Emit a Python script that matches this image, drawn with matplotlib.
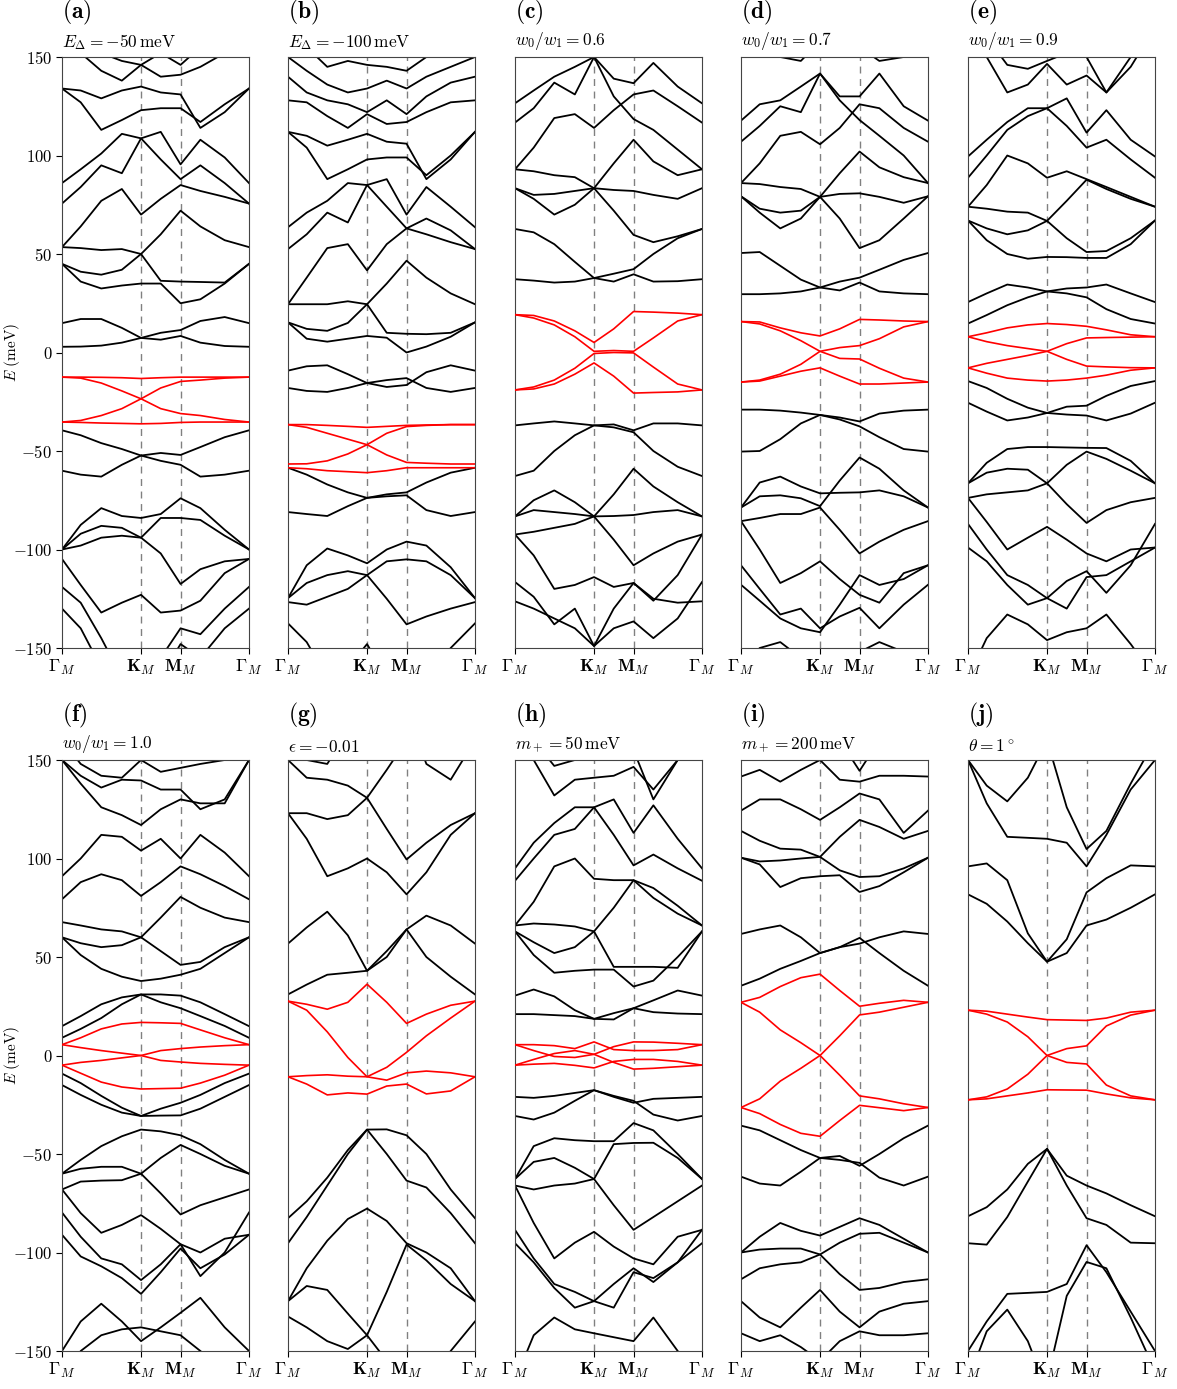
import numpy as np
import matplotlib
matplotlib.use('Agg')
import matplotlib.pyplot as plt

plt.rcParams['mathtext.fontset'] = 'cm'
plt.rcParams['font.family'] = 'serif'
plt.rcParams['font.serif'] = ['cmr10', 'DejaVu Serif']

# path Gamma -> K -> M -> Gamma, lengths 1 : 1/2 : sqrt(3)/2
KPT = 1 / (1 + 0.5 + np.sqrt(3) / 2)
MPT = 1.5 / (1 + 0.5 + np.sqrt(3) / 2)
kx = [0, 0.1, 0.21, 0.32, KPT, 0.528, MPT, 0.74, 0.87, 1.0]

titles = [r'$E_\Delta = -50\,\mathrm{meV}$', r'$E_\Delta = -100\,\mathrm{meV}$',
          r'$w_0/w_1 = 0.6$', r'$w_0/w_1 = 0.7$', r'$w_0/w_1 = 0.9$',
          r'$w_0/w_1 = 1.0$', r'$\epsilon = -0.01$', r'$m_+ = 50\,\mathrm{meV}$',
          r'$m_+ = 200\,\mathrm{meV}$', r'$\theta = 1^\circ$']
letters = ['a', 'b', 'c', 'd', 'e', 'f', 'g', 'h', 'i', 'j']

# energies (meV) at the kx points, one list per band
a_red = [
    [-12.5, -12.5, -12.6, -12.8, -13.2, -12.8, -12.5, -12.5, -12.5, -12.5],
    [-12.5, -13, -15.5, -19.5, -23.5, -28.5, -31, -32, -34, -35.3],
    [-35.3, -34.5, -32, -28.5, -23.5, -18, -14.7, -14, -13, -12.5],
    [-35.3, -35.5, -35.8, -36, -36.2, -36, -35.5, -35.3, -35.3, -35.3],
]
a_black = [
    [14.9, 17, 17, 12.5, 7.4, 6.5, 8.4, 5, 3.3, 2.9],
    [2.9, 3, 3.5, 5, 7.4, 10, 11.4, 16, 18, 14.9],
    [53.5, 53, 52, 52.5, 50, 36.4, 36, 35.8, 35.5, 45],
    [45, 41, 39.5, 42, 50, 60, 72, 64, 57, 53.5],
    [45, 36, 32.5, 34, 35, 35, 25, 27, 35, 45],
    [53.5, 64, 77, 83, 70, 78, 85, 82, 79, 75.6],
    [75.6, 84, 95, 91, 108.7, 112, 95.5, 108, 99, 86],
    [86, 93, 101, 111, 108.7, 98, 88, 95, 86, 75.6],
    [134, 127, 113, 118, 123, 124, 124, 117, 126, 134],
    [134, 133, 129, 133, 135, 132, 131, 114, 122, 134],
    [165, 152, 143, 138, 146, 140, 141, 145, 152, 165],
    [180, 165, 152, 148, 146, 152, 146, 155, 162, 180],
    [-39.5, -42, -46, -49, -52.3, -51, -52, -48, -43, -39.5],
    [-60, -62, -63, -57, -52.3, -55, -57, -63, -62, -60],
    [-100, -87.5, -79, -83, -84, -82, -74, -79, -90, -100],
    [-100, -92, -88, -89, -94, -84, -84, -85, -93, -100],
    [-100, -98, -94, -93, -94, -102, -117.5, -110, -106, -104.8],
    [-104.8, -118, -132, -127, -123, -132, -131, -126, -112, -104.8],
    [-119, -127, -145, -165, -175, -155, -140, -143, -130, -119],
    [-130, -140, -160, -175, -180, -165, -148, -155, -140, -130],
]

b_red = [
    [-36.6, -36.6, -37, -37.5, -38, -37.5, -37, -36.8, -36.6, -36.6],
    [-36.6, -38, -41, -44, -46.8, -52, -55.8, -56.2, -56.6, -56.6],
    [-56.6, -56.5, -55, -51.5, -46.8, -41, -37.6, -37, -36.6, -36.6],
    [-58.5, -59, -60, -60.5, -61, -60, -58.5, -58.5, -58.5, -58.5],
]
b_black = [
    [-9.2, -7, -6.5, -11, -15.5, -17.5, -16.5, -10, -6.5, -9.2],
    [-18, -19.5, -20, -18, -15.5, -14, -13, -18, -20, -18],
    [24.5, 24.5, 24.5, 26, 24.5, 10, 9.5, 9.3, 10, 15.3],
    [15.3, 12, 11, 15, 24.5, 35, 46.6, 38, 30, 24.5],
    [15.3, 7, 5.5, 7, 8.4, 7.5, 0, 3, 8, 15.3],
    [24.5, 38, 53, 55, 41.7, 55, 63, 60, 56, 52.5],
    [52.5, 60, 71, 66, 85, 88, 70, 84, 74, 63.6],
    [63.6, 71, 77, 86, 85, 74, 63, 68, 62, 52.5],
    [112, 104, 88, 93, 98, 99, 99, 90, 100, 112],
    [112, 110, 105, 108, 111, 107, 106, 88, 98, 112],
    [128, 127, 120, 114, 121, 116, 117, 122, 127, 128],
    [140, 132, 128, 126, 122, 128, 121, 130, 137, 140],
    [150, 143, 136, 132, 134, 138, 134, 140, 145, 150],
    [170, 155, 145, 148, 146, 145, 143, 150, 158, 170],
    [-58.5, -62, -67, -71, -73.8, -72, -71, -66, -61, -58.5],
    [-81, -82, -83, -78, -73.8, -73, -72.5, -80, -83, -81],
    [-124.7, -108, -99.5, -103, -107, -100, -96, -98, -109, -124.7],
    [-124.7, -117, -113, -111, -113, -106, -105, -106, -113, -124.7],
    [-126.7, -128, -124, -120, -113, -125, -138, -134, -130, -126.7],
    [-137.5, -147, -165, -160, -148, -165, -175, -165, -150, -137.5],
]

c_red = [
    [19.2, 18.8, 16, 11, 5.1, 12, 20.8, 20.5, 20, 19.2],
    [19.2, 17.5, 14, 8, 0.6, 1, 0.6, 7.4, 16, 19.2],
    [-19, -17.5, -14, -8, -0.5, 0, -0.2, -7.4, -16, -19],
    [-19, -18.5, -16, -11, -5.3, -12, -20.6, -20.3, -20, -19],
]
c_black = [
    [37.2, 36.5, 35.5, 36, 37.8, 36, 39.7, 36, 36.2, 37.2],
    [62.7, 61, 55, 46, 37.8, 40, 42.3, 50, 58, 62.7],
    [93, 92, 90, 89, 83.4, 72, 59.7, 56, 59, 62.7],
    [83.4, 78, 70, 75, 83.4, 96, 108, 97, 90, 93],
    [83.4, 80, 80.5, 82, 83.4, 82.5, 82, 80, 78, 83.4],
    [93, 104, 119, 121, 114, 123, 131, 133, 125, 116.7],
    [116.7, 124, 137, 131, 150, 139, 136.7, 147, 135, 126.5],
    [126.5, 133, 140, 145, 150, 130, 118.5, 113, 103, 93],
    [-37, -36, -35, -36, -37, -36.5, -39.5, -36, -36, -37],
    [-62.7, -60, -50, -42, -37, -38, -40.5, -50, -58, -62.7],
    [-83.2, -75, -70, -76, -83.2, -72, -59, -68, -76, -83.2],
    [-83.2, -80, -81, -82, -83.2, -83, -82.5, -81, -80, -83.2],
    [-92.4, -91, -89, -87, -83.2, -95, -108, -102, -96, -92.4],
    [-92.4, -103, -120, -118, -114, -119, -117, -126, -113, -92.4],
    [-116.5, -124, -138, -130, -149, -140, -136.5, -145, -135, -116.5],
    [-126.3, -130, -135, -140, -149, -130, -117, -125, -127, -126.3],
]

d_red = [
    [15.7, 15.5, 12.5, 10, 8.4, 12, 16.8, 16.5, 16, 15.7],
    [15.7, 14.5, 11, 6, 0.6, 2.5, 3.5, 7, 13, 15.7],
    [-15, -14, -11, -6, 0.6, -3, -3.3, -8, -13, -15],
    [-15, -14.5, -12, -9.5, -7.8, -12, -16, -16, -15.5, -15],
]
d_black = [
    [50.5, 51, 44, 37, 33, 31.5, 35.5, 31, 30, 29.6],
    [29.6, 29.6, 30, 31, 33, 36, 38, 42, 47, 50.5],
    [86, 85.5, 84, 83, 79, 68, 53, 57, 68, 79.3],
    [79.3, 73, 71, 72, 79, 80.5, 80.8, 79, 76, 79.3],
    [79.3, 71, 63, 68, 79, 91, 102, 94, 89, 86],
    [86, 96, 110, 112, 105.7, 114, 126, 124, 114, 107],
    [107, 115, 125, 122, 141.6, 130, 130, 141.6, 125, 117.7],
    [117.7, 126, 128, 135, 141.6, 128, 118, 110, 100, 86],
    [165, 155, 150, 148, 158, 160, 155, 148, 150, 165],
    [-29, -29, -29.5, -30.5, -31.7, -33, -35, -31, -29.5, -29],
    [-50.3, -50, -44, -36, -31.7, -34, -37.5, -43, -49, -50.3],
    [-78.7, -66, -63, -68, -71.5, -71.2, -71, -70, -73, -78.7],
    [-78.7, -73, -72.5, -74, -78, -65, -53.3, -59, -70, -78.7],
    [-85.6, -84, -82, -82, -78.7, -90, -102, -96, -90, -85.6],
    [-85.6, -100, -117, -112, -106, -115, -123, -127, -112, -108],
    [-108, -120, -133, -130, -140, -134, -129.6, -140, -128, -117.9],
    [-117.9, -126, -135, -140, -142, -128, -113, -118, -115, -108],
    [-160, -150, -147, -155, -165, -160, -152, -147, -152, -160],
]

e_red = [
    [8, 10, 12.5, 14, 14.7, 14.2, 13.3, 11.5, 9, 8],
    [8, 5.5, 3.5, 2, 0.6, -3.5, -6.9, -7.3, -7.7, -7.8],
    [-7.8, -5.5, -3.5, -1.5, 0.6, 4.5, 7.4, 7.6, 7.8, 8],
    [-7.8, -10.5, -13, -14, -14.5, -14, -13, -11.5, -9, -7.8],
]
e_black = [
    [25.6, 30, 34.5, 33, 31, 30, 28, 22, 17, 14.7],
    [14.7, 19, 24, 28, 31, 32.5, 33, 34.5, 30, 25.6],
    [74, 73, 71.5, 71, 66.8, 58, 51, 51.5, 58, 67],
    [67, 63, 60, 62, 66.8, 77, 87.7, 83, 78, 74],
    [67, 57, 50, 47.6, 48.5, 48.4, 48, 48, 55, 67],
    [99.5, 108, 117, 124, 124, 129, 111.6, 123, 108, 99.5],
    [88.7, 100, 113, 120, 124, 115, 104, 108, 98, 88.7],
    [74, 85, 100, 96, 88.7, 92, 88, 84, 79, 74],
    [165, 150, 132, 136, 146.5, 136, 140.6, 132, 145, 165],
    [175, 160, 146, 144, 148, 152, 150, 132, 150, 175],
    [-14.5, -18, -23.5, -28, -30.7, -27.5, -27, -22, -17, -14.5],
    [-25.5, -30, -34.5, -33, -30.7, -31.5, -32, -34.5, -31, -25.5],
    [-66.4, -56, -49, -48, -48, -48.2, -48.4, -48.5, -55, -66.4],
    [-66.4, -61, -59, -59.5, -66.4, -57, -50.3, -54, -60, -66.4],
    [-73.8, -72, -71, -70, -66.4, -77, -86.5, -80, -76, -73.8],
    [-73.8, -86, -100, -94, -88.5, -95, -102, -106, -100, -99],
    [-87, -100, -113, -118, -124.7, -116, -111, -122, -108, -87],
    [-99, -106, -118, -128, -124.7, -130, -114, -113, -106, -99],
    [-165, -145, -133, -138, -146, -142, -140, -133, -148, -165],
]

f_red = [
    [5.5, 9, 13.5, 16, 16.8, 16.6, 16.3, 13, 9, 5.5],
    [5.5, 4, 2.5, 1.2, 0, -2.5, -3.3, -4, -4.5, -4.9],
    [-4.9, -3.5, -2.5, -1.2, 0, 2.5, 3.5, 4.3, 5, 5.5],
    [-4.9, -9, -13.5, -16, -17, -16.8, -16.6, -14, -10, -4.9],
]
f_black = [
    [14.9, 20, 26, 29.5, 31, 31, 30.4, 27, 21, 14.9],
    [9, 13.5, 19, 26, 31, 27, 24, 20, 15, 9],
    [-9.2, -14, -20.5, -26.5, -30.7, -27, -24, -20, -14, -9.2],
    [-15, -20, -25, -29, -30.7, -30.5, -30.4, -27, -21, -15],
    [67.7, 66, 64, 63, 60, 53, 46, 47.5, 55, 60],
    [60, 57, 55, 56, 60, 70, 80.5, 75, 70, 67.7],
    [60, 51, 44, 40, 37.8, 39, 41, 44, 52, 60],
    [91, 100, 112, 111, 104, 110, 100, 112, 103, 91],
    [79.3, 88, 92, 89, 81, 88, 96, 92, 86, 79.3],
    [150, 138, 126, 122, 117, 125, 130, 128, 128, 150],
    [150, 142, 136, 140, 139.6, 135, 135, 125, 130, 150],
    [160, 148, 142, 141, 150, 144, 146, 148, 150, 160],
    [-60, -53, -46, -41, -37.6, -38.5, -40.5, -45, -53, -60],
    [-60, -57.5, -56.5, -56.5, -60, -52, -45.4, -50, -56, -60],
    [-68, -64, -63.5, -63.3, -60, -70, -80.7, -76, -72, -68],
    [-68, -80, -90, -86, -81, -88, -95.8, -100, -93, -91],
    [-79.7, -92, -103, -106, -114, -106, -95.8, -112, -100, -79.7],
    [-91, -102, -107, -113, -121, -110, -98, -108, -101, -91],
    [-150, -135, -126, -135, -145, -138, -130.6, -123, -138, -150],
    [-165, -150, -142, -139, -138, -140, -142, -150, -160, -170],
]

g_red = [
    [27.6, 26, 23.5, 27, 36.2, 27, 16.3, 21, 25.5, 27.6],
    [27.6, 23, 12, -1, -10.8, -6, 1.6, 10, 19, 27.6],
    [-10.8, -10.2, -9.8, -10.5, -10.8, -12.5, -8.8, -7.9, -8.8, -10.8],
    [-10.8, -14.5, -20, -19, -19.6, -15.5, -14.5, -19.5, -18, -10.8],
]
g_black = [
    [31, 36, 41, 42, 43, 50, 64, 71, 66, 56.8],
    [56.8, 65, 73, 61, 43, 53, 64, 50, 40, 31],
    [123, 123, 120, 122, 130.8, 115, 99.5, 108, 117, 123],
    [123, 110, 91, 95, 100, 93, 81.8, 93, 112, 123],
    [150, 141, 140, 137, 130.8, 145, 160, 170, 175, 180],
    [165, 150, 148, 165, 180, 180, 175, 148, 140, 160],
    [-82.6, -74, -62, -48, -37.6, -37.5, -40.5, -50, -68, -82.6],
    [-95.3, -82, -66, -50, -37.6, -50, -63.5, -67, -80, -95.3],
    [-124.7, -108, -94, -83, -77.7, -84, -95.3, -100, -108, -124.7],
    [-124.7, -117, -119, -131, -142, -120, -96, -104, -116, -124.7],
    [-132.5, -138, -145, -149, -142, -155, -170, -165, -150, -135],
]

h_red = [
    [5.5, 5.5, 5, 3.5, 6.9, 3, 2.5, 2.5, 3, 5.5],
    [5.5, 2.5, -0.5, -1, 0.6, 4.5, 6.9, 6.8, 6.2, 5.5],
    [-4.9, -2, 1, 2.5, 0.6, -3.5, -6.9, -6.5, -5.7, -4.9],
    [-4.9, -4.4, -4, -5, -6.3, -3, -2, -2, -3, -4.9],
]
h_black = [
    [30.4, 33.5, 30, 23, 18.6, 18.3, 24, 28, 33, 30.4],
    [21, 21, 20.5, 20, 18.6, 21.5, 24, 22, 21.3, 21],
    [66, 67, 66.5, 65.5, 63, 45, 45, 45, 44.5, 63],
    [63, 57.5, 52, 55, 63, 75, 89, 80, 72, 66],
    [63, 51, 42, 43, 43.6, 43.6, 35, 38, 50, 63],
    [95, 108, 118, 126, 126, 130, 113, 127, 110, 95],
    [88.7, 100, 112, 115, 126, 112, 96.5, 102, 95, 88.7],
    [66, 78, 96, 100, 89.7, 89, 89, 85, 76, 66],
    [170, 150, 132, 140, 141, 142, 146.5, 135, 150, 170],
    [180, 160, 147, 150, 155, 160, 155, 130, 150, 180],
    [-21, -21.5, -20.5, -19, -17.6, -21, -24, -22, -21.5, -21],
    [-30.7, -32.5, -29, -23, -17.6, -20.5, -23, -30, -33, -30.7],
    [-62.7, -46, -42, -43, -43.5, -43.5, -34.3, -38, -50, -62.7],
    [-62.7, -54, -52, -57, -62.7, -45, -44.4, -44.3, -52, -62.7],
    [-66, -68, -66, -65, -62.7, -76, -88.5, -82, -74, -66],
    [-66, -85, -103, -95, -89.5, -97, -103, -106, -92, -88.5],
    [-88.5, -103, -116, -120, -124.7, -116, -108, -115, -105, -95.3],
    [-95.3, -105, -118, -128, -124.7, -128, -110, -113, -105, -88.5],
    [-165, -142, -133, -139, -141, -143, -145, -133, -150, -165],
]

i_red = [
    [27, 29.5, 35, 39.5, 41.3, 33, 25, 26.5, 28, 27],
    [27, 22, 13, 6.5, 0, -10, -20.5, -22, -24.5, -26.4],
    [-26.4, -22, -13, -6.5, 0, 10, 20.6, 22, 24.5, 27],
    [-26.4, -29.5, -35, -39.5, -41, -33, -25.3, -26.5, -28, -26.4],
]
i_black = [
    [61.7, 64, 66, 60, 52, 55, 59.7, 52, 43, 35.4],
    [35.4, 39, 44, 48, 52, 55, 56.8, 60, 63, 61.7],
    [114, 109, 105, 104.5, 100.8, 94, 90.6, 91, 95, 100.4],
    [100.4, 97, 85.5, 90, 91, 91.5, 83, 86, 93, 100.4],
    [100.4, 98.5, 99, 100, 100.8, 111, 119.6, 116, 110, 114],
    [141.6, 145, 139, 145, 150, 140, 139, 142, 142, 141.6],
    [124.3, 130, 130, 125, 119.6, 126, 133, 130, 113, 124.3],
    [165, 158, 155, 160, 170, 160, 144.5, 160, 170, 165],
    [-35.6, -38, -43, -48, -52, -51, -56, -50, -42, -35.6],
    [-61.5, -65, -66, -59, -52, -53, -54.5, -62, -66, -61.5],
    [-100, -92, -85, -89, -91.4, -87, -82.6, -86, -93, -100],
    [-100, -98.5, -98, -98, -101, -95, -90.5, -90, -95, -100],
    [-113.6, -108, -106, -105, -101, -111, -119, -118, -115, -113.6],
    [-124.7, -133, -138, -128, -119, -130, -138, -130, -126, -124.7],
    [-141, -145, -142, -148, -155, -145, -140, -142, -142, -141],
]

j_red = [
    [23, 22.5, 21, 19.5, 18.2, 18, 17.8, 19, 22, 23],
    [23, 21, 17, 9.5, 0, -3.5, -4.3, -15, -20.5, -22.5],
    [-22.5, -21, -17, -9.5, 0, 3.5, 4.9, 15, 20.5, 23],
    [-22.5, -22, -20.5, -19, -17.4, -17.5, -17.6, -19.5, -21.5, -22.5],
]
j_black = [
    [96, 97.5, 89, 62, 47.6, 59, 82.8, 90, 96.5, 96],
    [81.8, 77, 68, 57, 47.6, 52, 66, 69, 75, 81.8],
    [150, 137, 129, 141, 160, 175, 180, 180, 175, 165],
    [150, 128, 111, 110.5, 110, 108, 96, 112, 135, 150],
    [190, 180, 175, 170, 160, 126, 104.8, 114, 138, 160],
    [-81.6, -77, -68, -55, -47.4, -61, -66, -70, -76, -81.6],
    [-95.3, -96, -82, -64, -47.4, -66, -82.6, -86, -95, -95.3],
    [-150, -135, -121, -120.5, -120, -116, -96.3, -110, -130, -150],
    [-165, -140, -129, -145, -170, -180, -180, -180, -180, -180],
    [-180, -180, -180, -180, -165, -122, -104.8, -108, -133, -160],
]

black_sets = [a_black, b_black, c_black, d_black, e_black,
              f_black, g_black, h_black, i_black, j_black]
red_sets = [a_red, b_red, c_red, d_red, e_red, f_red, g_red, h_red, i_red, j_red]

W, H = 1177, 1389
fig = plt.figure(figsize=(W / 100, H / 100), dpi=100)
lefts = [62, 288, 515, 741, 968]
tops = [57, 760]

for n in range(10):
    row, col = divmod(n, 5)
    ax = fig.add_axes([lefts[col] / W, 1 - (tops[row] + 591) / H, 187 / W, 591 / H])
    for kv in (KPT, MPT):
        ax.axvline(kv, color='gray', ls=(0, (5, 4)), lw=1.0, zorder=1)
    for band in black_sets[n]:
        ax.plot(kx, band, color='black', lw=1.3, zorder=2, solid_joinstyle='round')
    for band in red_sets[n]:
        ax.plot(kx, band, color='red', lw=1.2, zorder=3, solid_joinstyle='round')
    ax.set_xlim(0, 1)
    ax.set_ylim(-150, 150)
    ax.set_xticks([0, KPT, MPT, 1],
                  [r'$\mathbf{\Gamma}_M$', r'$\mathbf{K}_M$', r'$\mathbf{M}_M$', r'$\mathbf{\Gamma}_M$'],
                  fontsize=13)
    if col == 0:
        yt = [-150, -100, -50, 0, 50, 100, 150]
        ax.set_yticks(yt, [f'${t}$' for t in yt], fontsize=12)
        ax.set_ylabel(r'$E\ (\mathrm{meV})$', fontsize=11)
        ax.yaxis.set_label_coords(-0.215, 0.5)
    else:
        ax.set_yticks([])
    ax.tick_params(length=4, width=0.8, pad=3)
    for sp in ax.spines.values():
        sp.set_color('#444444')
    ax.text(0, 1.05, r'$\mathbf{(' + letters[n] + r')}$', transform=ax.transAxes,
            fontsize=17, va='bottom', ha='left')
    ax.text(0, 1.008, titles[n], transform=ax.transAxes, fontsize=12.5,
            va='bottom', ha='left')

fig.savefig('out.png', dpi=100)
